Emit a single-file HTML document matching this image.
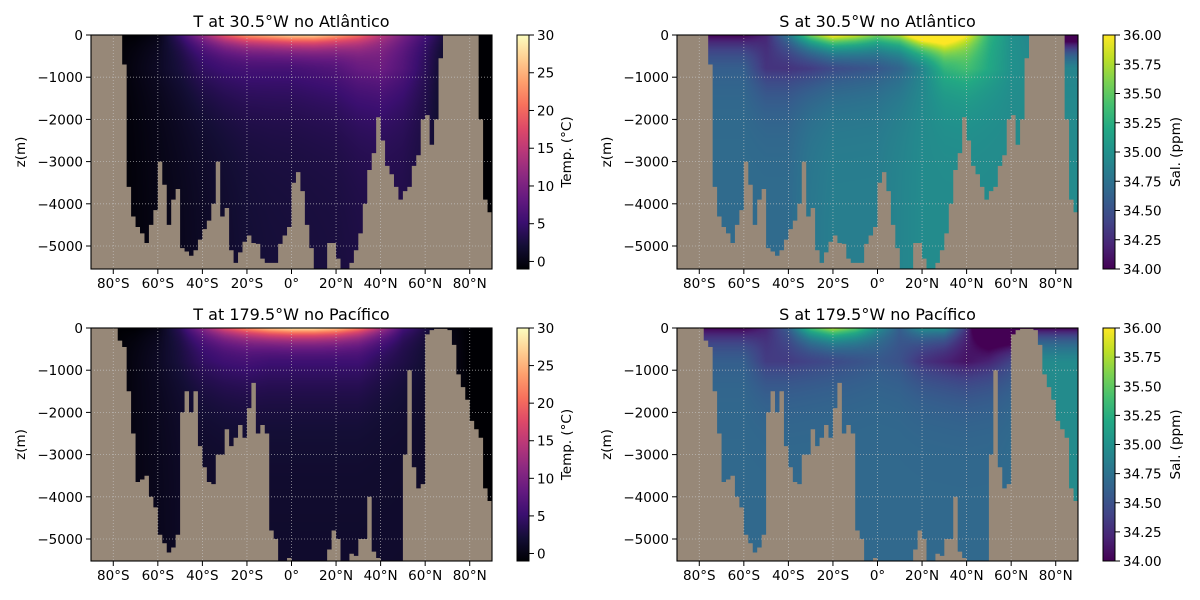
<!DOCTYPE html>
<html><head><meta charset="utf-8">
<style>
html,body{margin:0;padding:0;background:#fff;}
#wrap{position:relative;width:1200px;height:600px;overflow:hidden;font-family:"DejaVu Sans","Liberation Sans",sans-serif;}
canvas{position:absolute;}
svg{position:absolute;left:0;top:0;}
</style></head>
<body>
<div id="wrap">
<canvas id="c0" width="401" height="234" style="left:91px;top:35px"></canvas>
<canvas id="c1" width="401" height="234" style="left:677px;top:35px"></canvas>
<canvas id="c2" width="401" height="233" style="left:91px;top:328px"></canvas>
<canvas id="c3" width="401" height="233" style="left:677px;top:328px"></canvas>
<svg id="ov" width="1200" height="600"></svg>
</div>
<script>
// latitude nodes for the property profiles
const lats = [-90,-80,-70,-60,-50,-40,-30,-20,-10,0,10,20,30,40,50,60,70,80,90];
const atlTSurf = [-1,-1,-1,0,5,12,19,24,26,28,28,25,21,15,10,6,2,-1,-1];
const atlTMid  = [-1,-1,0,1,2.5,4.5,5.5,6,6,6,6.5,7,8.5,9,7,4,1,-1,-1];
const atlTDeep = [-1,-1,-0.5,0,0.5,1,1.5,2,2.2,2.3,2.4,2.5,2.8,3,3,2.5,1,-1,-1];
const pacTSurf = [-1,-1,-1,0,4,11,18,23,27,29,29,27,22,14,6,3,0,-1,-1];
const pacTMid  = [-1,-1,0,1,2.5,4.5,5.5,6,5.5,5.5,5.5,5.5,5.5,4,3,2,0.5,-1,-1];
const pacTDeep = [-1,-1,0,0.5,1,1.2,1.3,1.4,1.5,1.5,1.5,1.5,1.5,1.5,1.5,1.2,0.5,-1,-1];
const atlSSurf = [34,34,34,34,34.2,34.8,35.6,36.1,35.9,35.6,35.8,36.5,36.6,36.0,35.3,35.0,34.9,33.5,33.5];
const atlSMid  = [34.6,34.6,34.6,34.6,34.3,34.3,34.35,34.45,34.5,34.55,34.65,34.9,35.3,35.4,35.2,35.0,34.95,34.9,34.9];
const atlSDeep = [34.7,34.7,34.7,34.7,34.7,34.7,34.8,34.85,34.85,34.85,34.9,34.95,34.95,34.95,34.95,34.95,34.95,34.95,34.95];
const pacSSurf = [34,34,34,34,34.2,34.6,35.4,35.8,35.5,35.0,34.6,35.0,35.0,34.3,33.0,33.0,34.0,34.0,34.0];
const pacSMid  = [34.6,34.6,34.6,34.6,34.35,34.35,34.4,34.45,34.5,34.55,34.5,34.3,34.2,34.1,34.2,34.4,34.95,34.95,34.95];
const pacSDeep = [34.68,34.68,34.68,34.68,34.68,34.68,34.68,34.68,34.68,34.68,34.68,34.68,34.68,34.68,34.68,34.7,34.95,34.95,34.95];
// bottom depth (m) per 2° latitude cell, from 90°S to 90°N
const atlDepth = [0,0,0,0,0,0,0,700,3600,4300,4550,4700,4930,4500,4150,3000,3550,4500,3900,3650,5050,5130,5230,5100,4850,4600,4400,4000,3000,4300,4100,5100,5400,5150,4900,4750,4930,4950,5300,5400,5400,5400,4950,4750,4550,3500,3250,3700,4500,5050,5600,5600,5600,4930,4930,5300,5600,5600,5400,5100,4700,4000,3200,2800,1950,2500,3100,3300,3600,3900,3700,3600,3100,2850,2000,1900,2600,2000,550,0,0,0,0,0,0,0,0,2000,3900,4200];
const pacDepth = [0,0,0,0,0,0,300,450,1500,2500,3650,3590,3500,4000,4250,4900,5100,5320,5200,4900,2000,1500,2000,1500,2800,3300,3650,3700,3000,3000,2400,2800,2600,2300,2600,1900,1300,2500,2300,2500,4800,5000,5600,5600,5450,5600,5600,5600,5600,5600,5600,5600,5600,5250,4800,5000,5600,5600,5350,5400,5000,5000,4000,5300,5450,5600,5600,5600,5600,5600,3000,1000,3300,3800,3700,150,50,20,20,20,50,400,1100,1400,1700,2200,2400,2600,3800,4100];
const xTicks = [-80,-60,-40,-20,0,20,40,60,80];
const xTickLabels = ["80°S","60°S","40°S","20°S","0°","20°N","40°N","60°N","80°N"];
const yTicks = [0,-1000,-2000,-3000,-4000,-5000];
const yTickLabels = ["0","\u22121000","\u22122000","\u22123000","\u22124000","\u22125000"];
const tTicks = [0,5,10,15,20,25,30];
const tTickLabels = ["0","5","10","15","20","25","30"];
const sTicks = [34,34.25,34.5,34.75,35,35.25,35.5,35.75,36];
const sTickLabels = ["34.00","34.25","34.50","34.75","35.00","35.25","35.50","35.75","36.00"];

const magma = ["#000004","#140e36","#3b0f70","#641a80","#8c2981","#b73779","#de4968","#f7705c","#fe9f6d","#fecf92","#fcfdbf"];
const viridis = ["#440154","#482475","#414487","#355f8d","#2a788e","#21918c","#22a884","#44bf70","#7ad151","#bddf26","#fde725"];
function hex(h){return [parseInt(h.substr(1,2),16),parseInt(h.substr(3,2),16),parseInt(h.substr(5,2),16)];}
const magmaRGB = magma.map(hex), viridisRGB = viridis.map(hex);
function cmap(rgb, t){t=Math.max(0,Math.min(1,t));const f=t*10;const i=Math.min(9,Math.floor(f));const u=f-i;
 return [0,1,2].map(k=>rgb[i][k]*(1-u)+rgb[i+1][k]*u);}
function interpLat(arr, lat){const f=(lat+90)/10;const i=Math.max(0,Math.min(17,Math.floor(f)));const t=f-i;return arr[i]*(1-t)+arr[i+1]*t;}
function prof(s,m,d,z,hs,hd){
 if(z<=800){const e=Math.exp(-800/hs);return m+(s-m)*(Math.exp(-z/hs)-e)/(1-e);}
 return d+(m-d)*Math.exp(-(z-800)/hd);
}
const PXM = 211/5000;
const panels = [
 {cv:"c0",x:91,y:35,w:401,h:234,surf:atlTSurf,mid:atlTMid,deep:atlTDeep,depth:atlDepth,vmin:-1,vmax:30,rgb:magmaRGB,cols:magma,hs:320,hd:1000,title:"T at 30.5°W no Atlântico",cbx:517,ticks:tTicks,tl:tTickLabels,cbl:"Temp. (°C)",key:"atlantic-temperature"},
 {cv:"c1",x:677,y:35,w:401,h:234,surf:atlSSurf,mid:atlSMid,deep:atlSDeep,depth:atlDepth,vmin:34,vmax:36,rgb:viridisRGB,cols:viridis,hs:450,hd:650,title:"S at 30.5°W no Atlântico",cbx:1103,ticks:sTicks,tl:sTickLabels,cbl:"Sal. (ppm)",key:"atlantic-salinity"},
 {cv:"c2",x:91,y:328,w:401,h:233,surf:pacTSurf,mid:pacTMid,deep:pacTDeep,depth:pacDepth,vmin:-1,vmax:30,rgb:magmaRGB,cols:magma,hs:300,hd:900,title:"T at 179.5°W no Pacífico",cbx:517,ticks:tTicks,tl:tTickLabels,cbl:"Temp. (°C)",key:"pacific-temperature"},
 {cv:"c3",x:677,y:328,w:401,h:233,surf:pacSSurf,mid:pacSMid,deep:pacSDeep,depth:pacDepth,vmin:34,vmax:36,rgb:viridisRGB,cols:viridis,hs:400,hd:600,title:"S at 179.5°W no Pacífico",cbx:1103,ticks:sTicks,tl:sTickLabels,cbl:"Sal. (ppm)",key:"pacific-salinity"}
];
const NS="http://www.w3.org/2000/svg";
const ov=document.getElementById("ov");
function mk(tag,attrs,parent){const e=document.createElementNS(NS,tag);for(const k in attrs)e.setAttribute(k,attrs[k]);(parent||ov).appendChild(e);return e;}
const defs=mk("defs",{});

panels.forEach((p,pi)=>{
 const X=lat=>p.x+(lat+90)/180*p.w;
 const Y=z=>p.y+(-z)*PXM;
 const ctx=document.getElementById(p.cv).getContext("2d");
 const img=ctx.createImageData(p.w,p.h);
 for(let px=0;px<p.w;px++){
  const lat=-90+(px+0.5)/p.w*180;
  const s=interpLat(p.surf,lat),m=interpLat(p.mid,lat),d=interpLat(p.deep,lat);
  for(let py=0;py<p.h;py++){
   const z=(py+0.5)/PXM;
   const v=prof(s,m,d,z,p.hs,p.hd);
   const c=cmap(p.rgb,(v-p.vmin)/(p.vmax-p.vmin));
   const o=(py*p.w+px)*4;img.data[o]=c[0];img.data[o+1]=c[1];img.data[o+2]=c[2];img.data[o+3]=255;
  }
 }
 ctx.putImageData(img,0,0);
 const cp=mk("clipPath",{id:"clip"+pi},defs);
 mk("rect",{x:p.x,y:p.y,width:p.w,height:p.h},cp);
 let dstr="M"+p.x+","+(p.y+p.h+5);
 p.depth.forEach((dep,k)=>{const x0=X(-90+2*k),x1=X(-88+2*k),yy=Y(-dep);dstr+=" L"+x0.toFixed(2)+","+yy.toFixed(2)+" L"+x1.toFixed(2)+","+yy.toFixed(2);});
 dstr+=" L"+(p.x+p.w)+","+(p.y+p.h+5)+" Z";
 const land=mk("path",{d:dstr,fill:"#978878","clip-path":"url(#clip"+pi+")"});
 
 
 const g=mk("g",{stroke:"#c8c8c8","stroke-width":0.8,"stroke-dasharray":"1,2","opacity":0.75});
 
 
 xTicks.forEach(t=>mk("line",{x1:X(t),x2:X(t),y1:p.y,y2:p.y+p.h},g));
 yTicks.forEach(t=>{if(t!==0)mk("line",{x1:p.x,x2:p.x+p.w,y1:Y(t),y2:Y(t)},g);});
 const fr=mk("rect",{x:p.x,y:p.y,width:p.w,height:p.h,fill:"none",stroke:"#000","stroke-width":1.1});
 
 
 xTicks.forEach((t,i)=>{
  mk("line",{x1:X(t),x2:X(t),y1:p.y+p.h,y2:p.y+p.h+5,stroke:"#000","stroke-width":1});
  const tx=mk("text",{x:X(t),y:p.y+p.h+19,"text-anchor":"middle","font-size":"13.5px",fill:"#000"});
  tx.textContent=xTickLabels[i];
  
  
 });
 yTicks.forEach((t,i)=>{
  mk("line",{x1:p.x-5,x2:p.x,y1:Y(t),y2:Y(t),stroke:"#000","stroke-width":1});
  const tx=mk("text",{x:p.x-8,y:Y(t)+5,"text-anchor":"end","font-size":"13.5px",fill:"#000"});
  tx.textContent=yTickLabels[i];
  
  
 });
 const yl=mk("text",{x:0,y:0,transform:"translate("+(p.x-66)+","+(p.y+p.h/2)+") rotate(-90)","text-anchor":"middle","font-size":"13.5px",fill:"#000"});
 yl.textContent="z(m)";
 
 
 const ti=mk("text",{x:p.x+p.w/2,y:p.y-8,"text-anchor":"middle","font-size":"16px",fill:"#000"});
 ti.textContent=p.title;
 
 
 const gr=mk("linearGradient",{id:"grad"+pi,x1:0,y1:1,x2:0,y2:0},defs);
 p.cols.forEach((c,i)=>mk("stop",{offset:(i/10),"stop-color":c},gr));
 const cb=mk("rect",{x:p.cbx,y:p.y,width:12,height:p.h,fill:"url(#grad"+pi+")",stroke:"#000","stroke-width":1});
 
 
 const CY=v=>p.y+p.h-(v-p.vmin)/(p.vmax-p.vmin)*p.h;
 p.ticks.forEach((t,i)=>{
  mk("line",{x1:p.cbx+12,x2:p.cbx+17,y1:CY(t),y2:CY(t),stroke:"#000","stroke-width":1});
  const tx=mk("text",{x:p.cbx+20,y:CY(t)+5,"font-size":"13.5px",fill:"#000"});
  tx.textContent=p.tl[i];
  
  
 });
 const cx=p.cbx+(p.vmin<0?54:77);
 const cl=mk("text",{x:0,y:0,transform:"translate("+cx+","+(p.y+p.h/2)+") rotate(-90)","text-anchor":"middle","font-size":"13.5px",fill:"#000"});
 cl.textContent=p.cbl;
 
 
});
</script>
</body></html>
